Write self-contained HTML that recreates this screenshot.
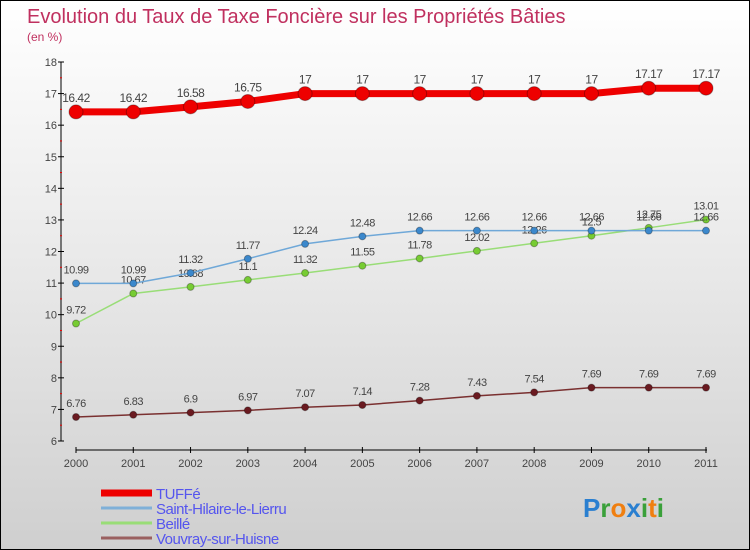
<!DOCTYPE html>
<html><head><meta charset="utf-8"><style>
body{margin:0}
#wrap{position:relative;width:748px;height:548px;border:1px solid #000;background:linear-gradient(#fff,#e8e8e8 50%,#cfcfcf);font-family:"Liberation Sans",sans-serif;overflow:hidden}
</style></head><body>
<div id="wrap">
<svg id="c" width="748" height="548"></svg>
</div>
<script>
const years=["2000","2001","2002","2003","2004","2005","2006","2007","2008","2009","2010","2011"];
const tuffe=[16.42,16.42,16.58,16.75,17,17,17,17,17,17,17.17,17.17];
const sthilaire=[10.99,10.99,11.32,11.77,12.24,12.48,12.66,12.66,12.66,12.66,12.66,12.66];
const beille=[9.72,10.67,10.88,11.1,11.32,11.55,11.78,12.02,12.26,12.5,12.75,13.01];
const vouvray=[6.76,6.83,6.9,6.97,7.07,7.14,7.28,7.43,7.54,7.69,7.69,7.69];
const yTicks=[6,7,8,9,10,11,12,13,14,15,16,17,18];
const seriesNames=["TUFFé","Saint-Hilaire-le-Lierru","Beillé","Vouvray-sur-Huisne"];
const svg=document.getElementById('c');const NS='http://www.w3.org/2000/svg';
function el(t,a,p){const e=document.createElementNS(NS,t);for(const k in a)e.setAttribute(k,a[k]);(p||svg).appendChild(e);return e;}
const X=i=>75+i*(630/11);
const Y=v=>440-(v-6)*(379/12);
let t=el('text',{x:26,y:22,'font-size':20,fill:'#c0305f'});t.textContent='Evolution du Taux de Taxe Foncière sur les Propriétés Bâties';

t=el('text',{x:26,y:40,'font-size':12,fill:'#c0305f'});t.textContent='(en %)';

let ax=el('line',{x1:60,y1:61,x2:60,y2:440,stroke:'#000'});

yTicks.forEach(v=>{el('line',{x1:57,x2:63,y1:Y(v),y2:Y(v),stroke:'#000'});
 if(v<18)el('line',{x1:59,x2:61,y1:Y(v+0.5),y2:Y(v+0.5),stroke:'#e00'});
 const l=el('text',{x:56,y:Y(v)+4,'font-size':11,fill:'#444','text-anchor':'end'});l.textContent=v;
 });
ax=el('line',{x1:75,y1:449,x2:706,y2:449,stroke:'#000'});

years.forEach((y,i)=>{el('line',{x1:X(i),x2:X(i),y1:446,y2:452,stroke:'#000'});
 const l=el('text',{x:X(i),y:466,'font-size':11,fill:'#444','text-anchor':'middle'});l.textContent=y;
 });
function series(d,col,w,r,dot,name,fmt){
 const g=el('g',{});
 el('polyline',{points:d.map((v,i)=>X(i)+','+Y(v)).join(' '),fill:'none',stroke:col,'stroke-width':w},g);
 d.forEach((v,i)=>{el('circle',{cx:X(i),cy:Y(v),r:r,fill:dot,stroke:'rgba(0,0,0,0.3)'},g);
  const l=el('text',{x:X(i),y:Y(v)-10,'font-size':fmt,fill:'#444','text-anchor':'middle','letter-spacing':'-0.5'},g);l.textContent=v;});
}
series(vouvray,'#7a3030',1.5,3.5,'#6a1a20','series-vouvray',11);
series(beille,'#99dd77',1.5,3.5,'#77cc33','series-beille',11);
series(sthilaire,'#6fa8d8',1.5,3.5,'#3b88cc','series-saint-hilaire',11);
series(tuffe,'#e00',7,7,'#e00','series-tuffe',12);
const lc=['#e00','#7fb0d8','#99dd77','#9a6060'],lw=[7,3,3,3];
seriesNames.forEach((n,i)=>{const yy=492+i*15;
 const g=el('g',{});
 el('line',{x1:100,x2:151,y1:yy,y2:yy,stroke:lc[i],'stroke-width':lw[i]},g);
 const l=el('text',{x:155,y:yy+6,'font-size':15,fill:'#5555ee','letter-spacing':'-0.5'},g);l.textContent=n;});
const lg=el('text',{x:582,y:516,'font-size':26,'font-weight':'bold'});
[['P','#2a7fd0'],['r','#3aa03a'],['o','#f07f10'],['x','#2a7fd0'],['i','#3aa03a'],['t','#f07f10'],['i','#3aa03a']].forEach(([c,f])=>{const s=el('tspan',{fill:f},lg);s.textContent=c;});
</script>
</body></html>
